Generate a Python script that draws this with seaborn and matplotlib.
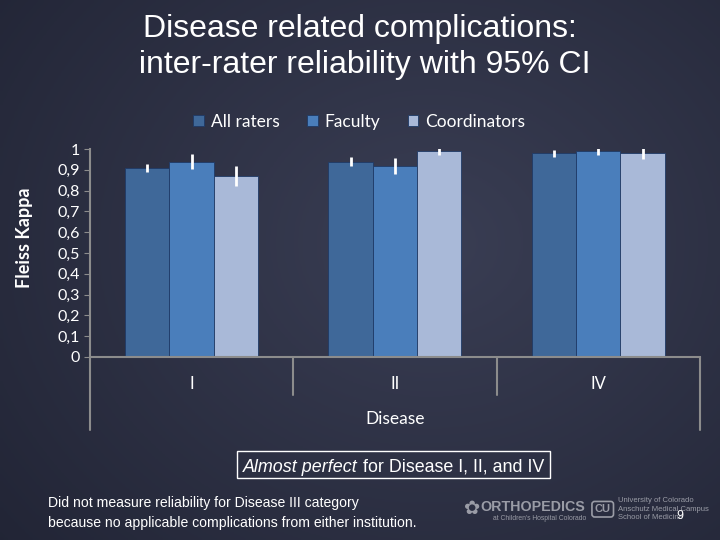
import numpy as np
import pandas as pd
import matplotlib
matplotlib.use("Agg")
import matplotlib.pyplot as plt
import seaborn as sns
from matplotlib.patches import Rectangle

categories = ["I", "II", "IV"]
raters = ["All raters", "Faculty", "Coordinators"]
all_raters = [0.91, 0.94, 0.98]
faculty = [0.94, 0.92, 0.99]
coordinators = [0.87, 0.99, 0.98]
# half width of 95% CI
all_ci = [0.020, 0.021, 0.017]
faculty_ci = [0.034, 0.038, 0.017]
coord_ci = [0.048, 0.021, 0.028]

colors = ["#3f6899", "#4a7ebb", "#a9b9d8"]

df = pd.DataFrame({
    "Disease": categories * 3,
    "Rater": [r for r in raters for _ in categories],
    "kappa": all_raters + faculty + coordinators,
})

sns.set_style("white")
plt.rcParams["font.family"] = ["Lato", "DejaVu Sans"]

fig = plt.figure(figsize=(7.2, 5.4), dpi=100)

# background gradient
bg = fig.add_axes([0, 0, 1, 1], zorder=-10)
yy, xx = np.mgrid[0:1:200j, 0:1:200j]
r = np.sqrt(((xx - 0.6) / 0.9) ** 2 + ((yy - 0.45) / 1.0) ** 2)
c0 = np.array([0x3a, 0x3e, 0x54]) / 255
c1 = np.array([0x1e, 0x21, 0x31]) / 255
t = np.clip(r, 0, 1)[..., None]
bg.imshow(c0 * (1 - t) + c1 * t, extent=[0, 1, 0, 1], aspect="auto")
bg.axis("off")

ax = fig.add_axes([0.125, 0.339, 0.847, 0.385])
ax.set_facecolor("none")
sns.barplot(data=df, x="Disease", y="kappa", hue="Rater", order=categories,
            hue_order=raters, palette=colors, saturation=1, width=0.655,
            gap=0, errorbar=None, edgecolor="#1f3a66", linewidth=0.6, ax=ax)

for cont, cis in zip(ax.containers, [all_ci, faculty_ci, coord_ci]):
    for bar, ci in zip(cont, cis):
        xc = bar.get_x() + bar.get_width() / 2
        ax.errorbar(xc, bar.get_height(), yerr=ci, fmt="none",
                    ecolor="white", elinewidth=2, capsize=0, zorder=5)

ax.set_xlim(-0.5, 2.5)
ax.set_ylim(0, 1)
ax.set_yticks(np.arange(0, 1.01, 0.1))
ax.set_yticklabels(["0"] + [f"0,{i}" for i in range(1, 10)] + ["1"])
ax.tick_params(axis="y", colors="white", labelsize=11.5, length=4,
               direction="out", left=True, pad=3)
ax.tick_params(axis="y", which="both", color="#8c8c8c")
for lab in ax.get_yticklabels():
    lab.set_color("white")
ax.tick_params(axis="x", length=0, labelsize=12, labelcolor="white", pad=14)
ax.set_xlabel("")
ax.set_ylabel("Fleiss Kappa", color="white", fontsize=13, fontweight="bold")
ax.yaxis.set_label_coords(-0.093, 0.572)
for s in ["top", "right"]:
    ax.spines[s].set_visible(False)
for s in ["left", "bottom"]:
    ax.spines[s].set_color("#8c8c8c")
    ax.spines[s].set_linewidth(1.5)

# multi-level category axis lines
trans = ax.get_xaxis_transform()
for xv, low in [(-0.5, -0.351), (0.5, -0.183), (1.5, -0.183), (2.5, -0.351)]:
    ax.plot([xv, xv], [0, low], color="#8c8c8c", lw=1.5, transform=trans,
            clip_on=False)
ax.text(0.5, -0.30, "Disease", transform=ax.transAxes, ha="center",
        va="center", color="white", fontsize=12.5)

sns.move_legend(ax, "center", bbox_to_anchor=(0.499, 0.774),
                bbox_transform=fig.transFigure, ncol=3, frameon=False,
                title=None, fontsize=12.5, handlelength=0.6, handleheight=0.6,
                columnspacing=1.6, handletextpad=0.4)
for txt in ax.get_legend().get_texts():
    txt.set_color("white")

fig.text(0.50, 0.913, "Disease related complications:\n inter-rater reliability with 95% CI",
         ha="center", va="center", color="white", fontsize=23,
         family="Liberation Sans", linespacing=1.25)

# summary box: italic part + normal part on one baseline
t1 = fig.text(243 / 720, 1 - 472 / 540, "Almost perfect", color="white",
              fontsize=12.9, style="italic", family="Liberation Sans",
              va="baseline")
fig.canvas.draw()
b1 = t1.get_window_extent()
t2 = fig.text(b1.x1 / fig.bbox.width, 1 - 472 / 540, " for Disease I, II, and IV",
              color="white", fontsize=12.9, family="Liberation Sans",
              va="baseline")
fig.canvas.draw()
b2 = t2.get_window_extent()
x0, x1 = b1.x0 - 6, b2.x1 + 6
y0, y1 = 1 - 478 / 540, 1 - 451 / 540
fig.add_artist(Rectangle((x0 / fig.bbox.width, y0), (x1 - x0) / fig.bbox.width,
                         y1 - y0, transform=fig.transFigure, fill=False,
                         edgecolor="white", lw=1))

fig.text(0.067, 0.068, "Did not measure reliability for Disease III category",
         color="white", fontsize=10.1, family="Liberation Sans", va="center")
fig.text(0.067, 0.031, "because no applicable complications from either institution.",
         color="white", fontsize=10.1, family="Liberation Sans", va="center")

# logo text
fig.text(0.645, 0.058, "\u273f", color="#9a9ca6", fontsize=14,
         family="DejaVu Sans", va="center")
fig.text(0.667, 0.062, "ORTHOPEDICS", color="#9a9ca6", fontsize=10.3,
         fontweight="bold", family="Liberation Sans", va="center")
fig.text(0.685, 0.039, "at Children's Hospital Colorado", color="#9a9ca6",
         fontsize=4.9, family="Liberation Sans", va="center")
fig.text(0.826, 0.057, "CU", color="#9a9ca6", fontsize=8, fontweight="bold",
         family="Liberation Sans", va="center",
         bbox=dict(boxstyle="round,pad=0.25", facecolor="none",
                   edgecolor="#9a9ca6", lw=1.2))
fig.text(0.859, 0.057, "University of Colorado\nAnschutz Medical Campus\nSchool of Medicine",
         color="#9a9ca6", fontsize=5.5, family="Liberation Sans", va="center",
         linespacing=1.3)
fig.text(0.94, 0.044, "9", color="white", fontsize=9, va="center",
         family="Liberation Sans")

fig.savefig("out.png", dpi=100)
